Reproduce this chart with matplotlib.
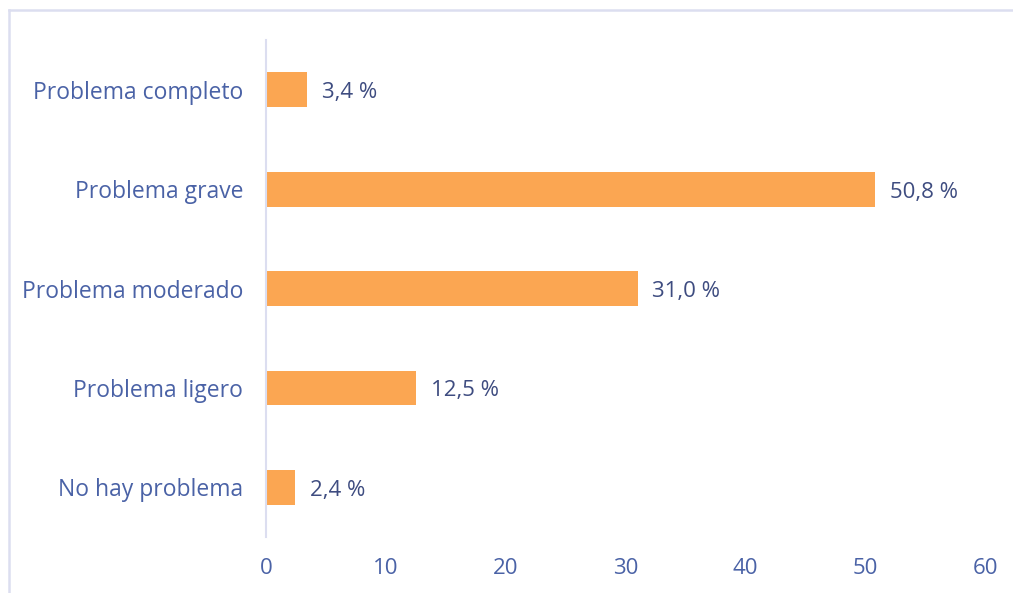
import matplotlib
matplotlib.use("Agg")
import matplotlib.pyplot as plt
from matplotlib.lines import Line2D

categorias = ["No hay problema", "Problema ligero", "Problema moderado",
              "Problema grave", "Problema completo"]
porcentajes = [2.4, 12.5, 31.0, 50.8, 3.4]
ticks_x = [0, 10, 20, 30, 40, 50, 60]

naranja = "#FBA652"
azul = "#4A62A6"
azul_osc = "#3E4C80"
borde = "#DCDEF0"

plt.rcParams["font.family"] = ["Open Sans", "DejaVu Sans"]

fig = plt.figure(figsize=(10.13, 5.93), dpi=100)
ax = fig.add_axes([0.2626, 0.0944, 0.7098, 0.838])

y = range(len(categorias))
ax.barh(y, porcentajes, height=0.35, color=naranja, zorder=2)
for yi, v in zip(y, porcentajes):
    ax.text(v + 1.25, yi - 0.03, f"{v:.1f} %".replace(".", ","), va="center",
            ha="left", fontsize=16, color=azul_osc)

ax.set_xlim(0, 60)
ax.set_ylim(-0.5, 4.5)
ax.set_yticks(list(y))
ax.set_yticklabels(categorias, fontsize=16.5, color=azul)
ax.set_xticks(ticks_x)
ax.set_xticklabels([str(t) for t in ticks_x], fontsize=16, color=azul)
ax.tick_params(axis="both", length=0)
ax.tick_params(axis="y", pad=16.5)
ax.tick_params(axis="x", pad=15)
for s in ["top", "right", "bottom"]:
    ax.spines[s].set_visible(False)
ax.spines["left"].set_color(borde)
ax.spines["left"].set_linewidth(1.5)

# marco exterior
fig.add_artist(Line2D([9 / 1013, 9 / 1013], [0, 1 - 10 / 593],
                      transform=fig.transFigure, color=borde, lw=1.8))
fig.add_artist(Line2D([9 / 1013, 1], [1 - 10 / 593, 1 - 10 / 593],
                      transform=fig.transFigure, color=borde, lw=1.8))

fig.savefig("out.png", dpi=100)
